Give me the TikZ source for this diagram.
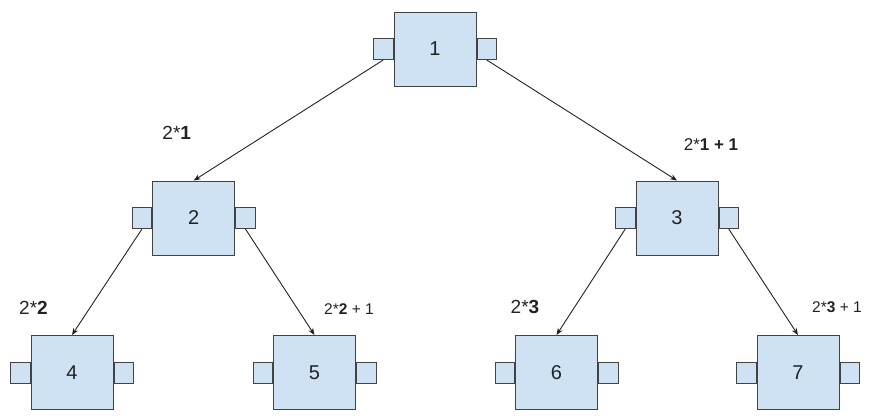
\documentclass[tikz,border=0pt]{standalone}
\usepackage{fontspec}
\setmainfont{Liberation Sans}
\usetikzlibrary{arrows.meta,positioning}

\definecolor{boxfill}{HTML}{CFE2F3}
\definecolor{boxline}{HTML}{434343}
\definecolor{inkc}{HTML}{222222}

\begin{document}
\begin{tikzpicture}[
  x=1pt, y=-1pt,
  >={Stealth[length=7pt,width=5.5pt]},
  box/.style={draw=boxline, fill=boxfill, line width=1pt, inner sep=0pt,
    minimum width=82pt, minimum height=74pt, text=inkc,
    font=\fontsize{20}{24}\selectfont},
  port/.style={draw=boxline, fill=boxfill, line width=1pt, inner sep=0pt,
    minimum width=19.5pt, minimum height=21pt},
  edge/.style={->, line width=0.9pt, draw=inkc},
  bigidx/.style={text=inkc, inner sep=0pt, font=\fontsize{19}{23}\selectfont},
  mididx/.style={text=inkc, inner sep=0pt, font=\fontsize{17}{20}\selectfont},
  smallidx/.style={text=inkc, inner sep=0pt, font=\fontsize{15.5}{18}\selectfont}
]
\useasboundingbox (0,0) rectangle (873,418);

% tree of boxes
\node[box] (n1) at (435,49) {1};
\node[box] (n2) at (193.7,218) {2};
\node[box] (n3) at (677,218) {3};
\node[box] (n4) at (72,372.5) {4};
\node[box] (n5) at (314.5,372.5) {5};
\node[box] (n6) at (556.5,372.5) {6};
\node[box] (n7) at (798,372.5) {7};

% side ports
\foreach \n in {n1,n2,n3,n4,n5,n6,n7} {
  \node[port, left=0pt of \n] (\n-l) {};
  \node[port, right=0pt of \n] (\n-r) {};
}

\draw[edge] (n1-l.south) -- (n2.north);
\draw[edge] (n1-r.south) -- (n3.north);
\draw[edge] (n2-l.south) -- (n4.north);
\draw[edge] (n2-r.south) -- (n5.north);
\draw[edge] (n3-l.south) -- (n6.north);
\draw[edge] (n3-r.south) -- (n7.north);

% index labels
\node[bigidx] (l2) at (176.7,133) {2*\textbf{1}};
\node[mididx] (l3) at (711,145) {2*\textbf{1 + 1}};
\node[bigidx] (l4) at (33.5,308) {2*\textbf{2}};
\node[smallidx] (l5) at (349,309) {2*\textbf{2} + 1};
\node[bigidx] (l6) at (525,307) {2*\textbf{3}};
\node[smallidx] (l7) at (837,307) {2*\textbf{3} + 1};

\end{tikzpicture}
\end{document}
